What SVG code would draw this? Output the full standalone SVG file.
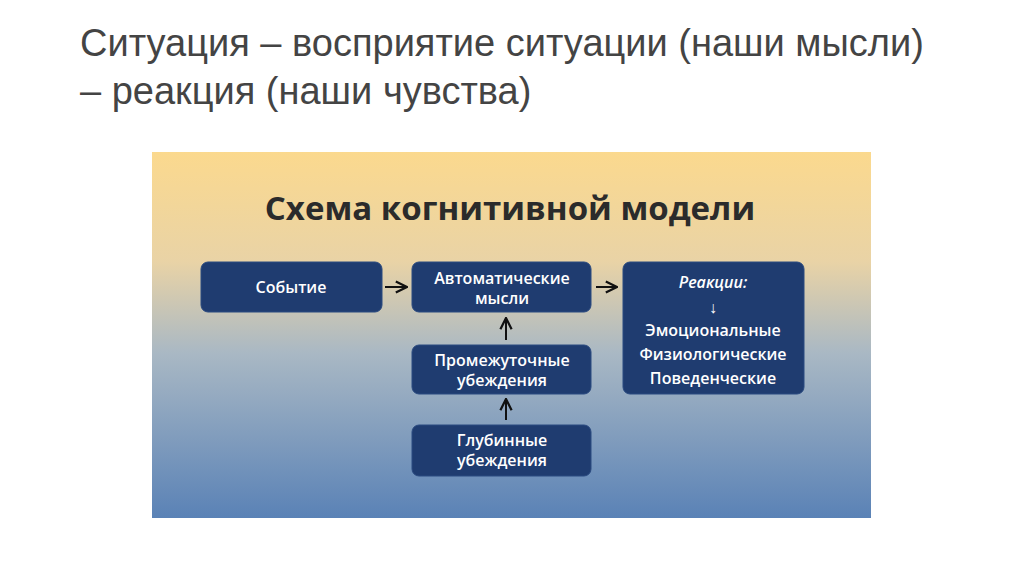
<svg xmlns="http://www.w3.org/2000/svg" width="1024" height="574" viewBox="0 0 1024 574">
<defs>
<linearGradient id="bg" x1="0" y1="0" x2="0" y2="1">
<stop offset="0" stop-color="#fbd98e"/>
<stop offset="0.3" stop-color="#e9d3a6"/>
<stop offset="0.55" stop-color="#a9b8c4"/>
<stop offset="1" stop-color="#5a82b6"/>
</linearGradient>
<marker id="ah" viewBox="0 0 10 10" refX="9" refY="5" markerWidth="7" markerHeight="7" orient="auto"><path d="M1,1 L9,5 L1,9" fill="none" stroke="#111" stroke-width="1.6"/></marker>
<style>
.h{font-family:"Liberation Sans",Arial,sans-serif;font-size:38px;fill:#444}
.box{fill:#1f3c70;stroke:#2a4a80;stroke-width:1}
.t{font-family:"Open Sans","Noto Sans",sans-serif;font-size:16px;font-weight:600;fill:#fff;text-anchor:middle}
.c{stroke:#111;stroke-width:2;fill:none;marker-end:url(#ah)}
</style>
</defs>
<rect width="1024" height="574" fill="#fff"/>
<text class="h" x="80" y="56">Ситуация – восприятие ситуации (наши мысли)</text>
<text class="h" x="80" y="104">– реакция (наши чувства)</text>
<rect x="152" y="152" width="719" height="366" fill="url(#bg)"/>
<text x="510" y="220" text-anchor="middle" font-family="'Open Sans','Noto Sans',sans-serif" font-weight="bold" font-size="33" fill="#2b2b2b">Схема когнитивной модели</text>
<g id="n1"><rect class="box" x="201" y="262" width="181" height="50" rx="7"/><text class="t" x="291" y="293">Событие</text></g>
<g id="n2"><rect class="box" x="412" y="262" width="179" height="50" rx="7"/><text class="t" x="502" y="284">Автоматические</text><text class="t" x="502" y="304">мысли</text></g>
<g id="n3"><rect class="box" x="623" y="262" width="181" height="132" rx="7"/><text class="t" x="713" y="288" font-style="italic" font-weight="normal">Реакции:</text><text class="t" x="713" y="313" font-family="'DejaVu Sans',sans-serif" font-size="18" font-weight="normal">↓</text><text class="t" x="713" y="336">Эмоциональные</text><text class="t" x="713" y="360">Физиологические</text><text class="t" x="713" y="384">Поведенческие</text></g>
<g id="n4"><rect class="box" x="412" y="345" width="179" height="49" rx="7"/><text class="t" x="502" y="366">Промежуточные</text><text class="t" x="502" y="386">убеждения</text></g>
<g id="n5"><rect class="box" x="412" y="425" width="179" height="51" rx="7"/><text class="t" x="502" y="446">Глубинные</text><text class="t" x="502" y="466">убеждения</text></g>
<g id="connectors">
<line class="c" x1="385" y1="287" x2="407" y2="287"/>
<line class="c" x1="596" y1="287" x2="617" y2="287"/>
<line class="c" x1="506" y1="340" x2="506" y2="318"/>
<line class="c" x1="506" y1="420" x2="506" y2="399"/>
</g>
</svg>
